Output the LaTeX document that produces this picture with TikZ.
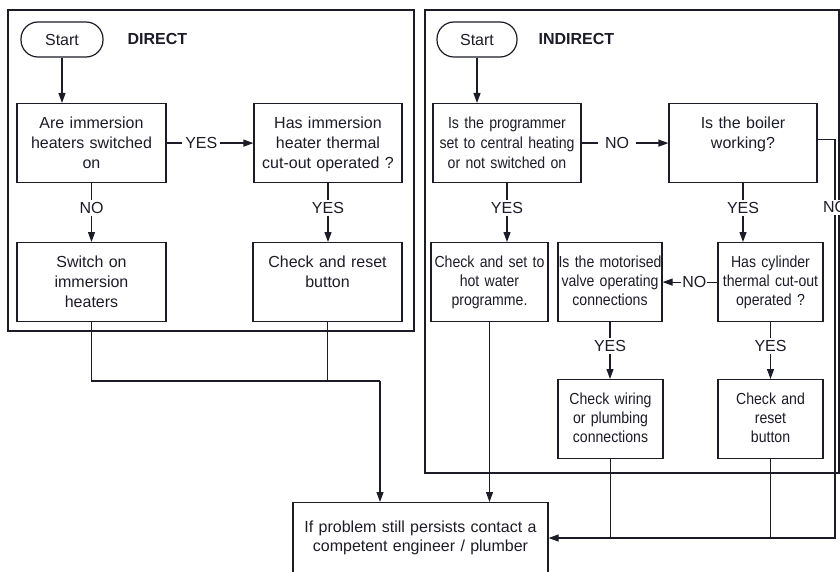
\documentclass[tikz,border=0pt]{standalone}
\usepackage{fontspec}
\setmainfont{Liberation Sans}
\newfontfamily\narrowfont[FakeStretch=0.88]{Liberation Sans}
\usetikzlibrary{arrows.meta}
\definecolor{ink}{RGB}{28,28,40}
\begin{document}
\begin{tikzpicture}[x=1pt,y=-1pt,color=ink,line width=1.2pt,font=\fontsize{16}{20}\selectfont,
    box/.style={draw,anchor=north,inner sep=0pt,align=center,text height=25pt,text depth=54pt},
    nbox/.style={box,font=\narrowfont\fontsize{16}{19}\selectfont},
    term/.style={draw,rounded corners=17pt,minimum width=82pt,minimum height=35pt,inner sep=0pt},
    ttl/.style={anchor=west,inner sep=0pt,font=\bfseries\fontsize{16}{20}\selectfont},
    lbl/.style={fill=white,inner sep=2pt},
    arrow/.style={>={Triangle[length=10pt,width=7pt]},->}]
    \useasboundingbox (0,0) rectangle (840,572);
    \draw (8,10) rectangle (414,331); %DIRECT
    \draw (425,10) rectangle (839,473); %INDIRECT
    % direct
    \path node[term] (startD) at (62,39.5) {Start}
          node[ttl] (ttlD) at (127,39) {DIRECT};
    \path node[box,text width=149pt] (qD1) at (91.5,103) {Are immersion\\heaters switched\\on}
          node[box,text width=148pt] (qD2) at (328,103) {Has immersion\\heater thermal\\cut-out operated ?}
          node[box,text width=149pt] (actD1) at (91.5,242) {Switch on\\immersion\\heaters}
          node[box,text width=149pt] (actD2) at (327.5,242) {Check and reset\\button};
    % indirect
    \path node[term,minimum width=80pt] (startI) at (477,39.5) {Start}
          node[ttl] (ttlI) at (538,39) {INDIRECT};
    \path node[nbox,text width=148pt,font=\narrowfont\fontsize{16}{20}\selectfont] (prog) at (507,103) {Is the programmer\\set to central heating\\or not switched on}
          node[box,text width=148pt] (boiler) at (743,103) {Is the boiler\\working?}
          node[nbox,text width=117pt] (chkset) at (489.5,242) {Check and set to\\hot water\\programme.}
          node[nbox,text width=104pt] (motor) at (610,242) {Is the motorised\\valve operating\\connections}
          node[nbox,text width=105pt] (cyl) at (770.5,242) {Has cylinder\\thermal cut-out\\operated ?}
          node[nbox,text width=105pt] (wiring) at (610.5,379) {Check wiring\\or plumbing\\connections}
          node[nbox,text width=105pt] (resetI) at (770.5,379) {Check and\\reset\\button};
    \path node[box,text width=255pt,text height=30pt,text depth=70pt,font=\fontsize{16}{19}\selectfont] (final) at (420.5,502) {If problem still persists contact a\\competent engineer / plumber};
    % connectors
    \draw[arrow] (startD) -- (startD |- qD1.north);
    \draw[arrow] (startI) -- (startI |- prog.north);
    \draw[arrow] (qD1) -- node[lbl,pos=.4,inner xsep=3pt] (yesD1) {YES} (qD2);
    \draw[arrow] (qD1) -- node[lbl,pos=.42] (noD1) {NO} (qD1 |- actD1.north);
    \foreach \a/\b in {qD2/actD2,prog/chkset,boiler/cyl,motor/wiring,cyl/resetI}
        \draw[arrow] (\a) -- node[lbl,pos=.42] (yes-\a) {YES} (\a |- \b.north);
    \draw[arrow] (prog) -- node[lbl,pos=.41,inner xsep=7pt] (noP) {NO} (boiler);
    \draw[arrow] (cyl) -- node[lbl,pos=.42,inner xsep=1pt] (noC) {NO} (motor);
    \coordinate (rt) at (835,538);
    \draw[arrow] ([yshift=3.5pt]boiler.east) -- ([yshift=3.5pt]boiler.east -| rt) -- node[lbl,pos=.17] (noB) {NO} (rt) -- (final.east |- rt);
    \draw (wiring) -- (wiring |- rt);
    \draw (resetI) -- (resetI |- rt);
    \coordinate (jn) at (380,381);
    \draw (actD1) |- (jn);
    \draw (actD2) -- (actD2 |- jn);
    \draw[arrow] (jn) -- (jn |- final.north);
    \draw[arrow] (chkset) -- (chkset |- final.north);
\end{tikzpicture}
\end{document}
